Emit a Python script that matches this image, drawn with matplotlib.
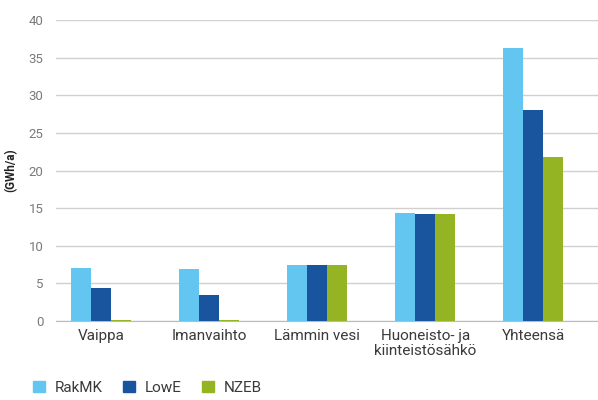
import numpy as np
import matplotlib
matplotlib.use("Agg")
import matplotlib.pyplot as plt
from matplotlib.patches import Patch

# data
categories = ["Vaippa", "Imanvaihto", "Lämmin vesi", "Huoneisto- ja\nkiinteistösähkö", "Yhteensä"]
series_names = ["RakMK", "LowE", "NZEB"]
rakmk = [7.05, 6.9, 7.45, 14.35, 36.3]
lowe = [4.4, 3.45, 7.45, 14.2, 28.0]
nzeb = [0.15, 0.15, 7.45, 14.2, 21.8]
yticks = [0, 5, 10, 15, 20, 25, 30, 35, 40]

colors = ["#62C6F1", "#19559E", "#95B424"]
grey = "#7A7A7A"
text_col = "#3A3A3A"

plt.rcParams["font.family"] = ["Roboto", "DejaVu Sans"]

fig = plt.figure(figsize=(5.98, 4.0), dpi=100)
ax = fig.add_axes([0.0936, 0.1975, 0.9064, 0.7525])

x = np.arange(len(categories))
w = 0.185
for i, (vals, c) in enumerate(zip([rakmk, lowe, nzeb], colors)):
    ax.bar(x + (i - 1) * w, vals, width=w, color=c, zorder=3)

ax.set_ylim(0, 40)
ax.set_xlim(-0.417, 4.6)
ax.set_yticks(yticks)
ax.yaxis.grid(True, color="#D0D0D0", linewidth=1.0, zorder=0)
ax.set_xticks(x)
ax.set_xticklabels(categories, fontsize=11, color=text_col, linespacing=1.05)
for sp in ["top", "right", "left"]:
    ax.spines[sp].set_visible(False)
ax.spines["bottom"].set_color("#BBBBBB")
ax.tick_params(axis="both", length=0)
ax.tick_params(axis="y", labelsize=9.5, labelcolor=grey, pad=9)
ax.tick_params(axis="x", pad=6)
ax.set_ylabel("(GWh/a)", fontsize=8.5, fontweight="bold", color="#222222", labelpad=8)

handles = [Patch(color=c) for c in colors]
fig.legend(handles, series_names, loc="lower left", bbox_to_anchor=(0.033, -0.022),
           ncol=3, frameon=False, fontsize=11, handlelength=0.75, handleheight=0.75,
           columnspacing=1.35, handletextpad=0.65, labelcolor=text_col)

fig.savefig("out.png", dpi=100)
